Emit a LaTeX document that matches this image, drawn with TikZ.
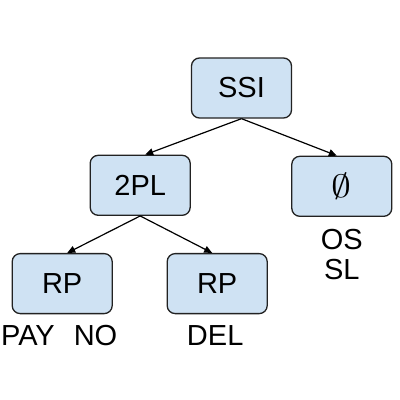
\documentclass[tikz,border=0pt]{standalone}
\usepackage{fontspec}
\setmainfont{Liberation Sans}
\usetikzlibrary{arrows.meta, positioning}
\definecolor{lockfill}{HTML}{CFE2F3}
\definecolor{lockedge}{HTML}{222222}

\begin{document}
\begin{tikzpicture}[
  x=1pt, y=1pt,
  every node/.style={font=\fontsize{29}{30}\selectfont},
  lock/.style={draw=lockedge, fill=lockfill, rounded corners=8pt, line width=1.3pt,
               minimum width=100pt, minimum height=60pt, inner sep=0pt},
  note/.style={inner sep=0pt, align=center},
  arrow/.style={-{Triangle[length=8pt,width=7pt]}, line width=1.2pt, color=black},
]
\useasboundingbox (0,0) rectangle (400,-400);

% Root
\node[lock] (ssi) at (241.5,-88) {SSI};

% Second level
\node[lock, below left=36pt and 0pt of ssi]   (twopl) {2PL};
\node[lock, below right=37pt and -1pt of ssi] (none)
  {\scalebox{1.6}[1.3]{$\emptyset$}};

% Third level
\node[lock, below=37pt of twopl, xshift=-78pt] (rpay) {RP};
\node[lock, below=37pt of twopl, xshift=77pt]  (rdel) {RP};

% Labels under the leaves
\node[note, below=11pt of rpay, xshift=-3pt] (paylbl) {PAY\hspace{19pt}NO};
\node[note, below=11pt of rdel, xshift=-2pt] (dellbl) {DEL};
\node[note, below=12pt of none]              (nonelbl) {OS\\SL};

% Arrows
\draw[arrow] (ssi.south)   -- ([xshift=5pt]twopl.north);
\draw[arrow] (ssi.south)   -- ([xshift=-5pt]none.north);
\draw[arrow] (twopl.south) -- ([xshift=5pt]rpay.north);
\draw[arrow] (twopl.south) -- ([xshift=-5pt]rdel.north);

\end{tikzpicture}
\end{document}
